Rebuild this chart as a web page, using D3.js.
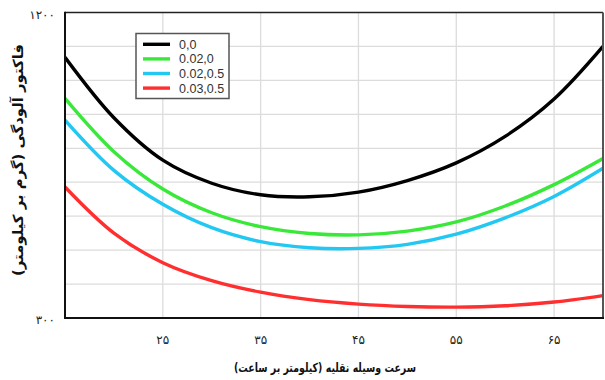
<!DOCTYPE html>
<html><head><meta charset="utf-8">
<script src="https://cdn.jsdelivr.net/npm/d3@7"></script>
<style>body{margin:0;background:#fff}svg{display:block}</style>
</head><body>
<script>
const speeds = [15, 20, 25, 30, 35, 40, 45, 50, 55, 60, 65, 70];
const seriesNames = ["0,0", "0.02,0", "0.02,0.5", "0.03,0.5"];
const black = [1068, 890, 765, 697, 663, 657, 671, 705, 757, 835, 945, 1100];
const green = [947, 790, 680, 610, 569, 549, 545, 556, 583, 630, 693, 770];
const cyan = [883, 735, 635, 566, 525, 507, 505, 517, 547, 595, 658, 741];
const red = [686, 550, 463, 410, 376, 354, 341, 334, 332, 336, 347, 366];
const colors = ["#000000", "#3ae83a", "#22c8f2", "#ff2f2f"];
const xTicks = [25, 35, 45, 55, 65];
const xTickLabels = ["۲۵", "۳۵", "۴۵", "۵۵", "۶۵"];
const yTicks = [300, 1200];
const yTickLabels = ["۳۰۰", "۱۲۰۰"];
const yGrid = [400, 500, 600, 700, 800, 900, 1000, 1100];
const xTitle = "سرعت وسیله نقلیه (کیلومتر بر ساعت)";
const yTitle = "فاکتور آلودگی (گرم بر کیلومتر)";

const W = 605, H = 380;
const L = 65, R = 603, T = 12.5, B = 318;
const svg = d3.select("body").append("svg").attr("width", W).attr("height", H);
const x = d3.scaleLinear().domain([15, 70]).range([L, R]);
const y = d3.scaleLinear().domain([300, 1200]).range([B, T]);

// grid
svg.append("g").selectAll("line").data(yGrid).join("line")
  .attr("x1", L).attr("x2", R).attr("y1", d => y(d)).attr("y2", d => y(d))
  .attr("stroke", "#dcdcdc").attr("stroke-width", 1.3);
svg.append("g").selectAll("line").data(xTicks).join("line")
  .attr("y1", T).attr("y2", B).attr("x1", d => x(d)).attr("x2", d => x(d))
  .attr("stroke", "#dcdcdc").attr("stroke-width", 1.3);

// clip
svg.append("clipPath").attr("id", "clip").append("rect")
  .attr("x", L).attr("y", T).attr("width", R - L).attr("height", B - T);

const all = [black, green, cyan, red];
const line = d3.line().x((d, i) => x(speeds[i])).y(d => y(d)).curve(d3.curveCatmullRom.alpha(0.5));
svg.append("g").attr("clip-path", "url(#clip)").selectAll("path").data(all).join("path")
  .attr("d", d => line(d)).attr("fill", "none")
  .attr("stroke", (d, i) => colors[i]).attr("stroke-width", 3.4);

// frame
svg.append("line").attr("x1", L).attr("x2", R).attr("y1", T).attr("y2", T).attr("stroke", "#222").attr("stroke-width", 1.5);
svg.append("line").attr("x1", R).attr("x2", R).attr("y1", T).attr("y2", B).attr("stroke", "#555").attr("stroke-width", 2);
svg.append("line").attr("x1", L).attr("x2", L).attr("y1", T - 0.75).attr("y2", B + 1).attr("stroke", "#111").attr("stroke-width", 2);
svg.append("line").attr("x1", L - 1).attr("x2", R + 1).attr("y1", B).attr("y2", B).attr("stroke", "#111").attr("stroke-width", 2.2);

// x tick labels
svg.append("g").selectAll("text").data(xTicks).join("text")
  .attr("x", d => x(d)).attr("y", 344).attr("text-anchor", "middle")
  .attr("font-family", "DejaVu Sans").attr("font-size", 12).attr("fill", "#222")
  .text((d, i) => xTickLabels[i]);
// y tick labels
svg.append("g").selectAll("text").data(yTicks).join("text")
  .attr("x", 55).attr("y", d => y(d) + 6).attr("text-anchor", "end")
  .attr("font-family", "DejaVu Sans").attr("font-size", 12).attr("fill", "#222")
  .text((d, i) => yTickLabels[i]);

// titles
svg.append("text").attr("x", 325).attr("y", 372).attr("text-anchor", "middle")
  .attr("direction", "rtl")
  .attr("font-family", "DejaVu Sans").attr("font-size", 12.5).attr("font-weight", "bold").attr("fill", "#111")
  .attr("textLength", 182).attr("lengthAdjust", "spacingAndGlyphs")
  .text(xTitle);
svg.append("text").attr("transform", "translate(23,160) rotate(-90)").attr("text-anchor", "middle")
  .attr("direction", "rtl")
  .attr("font-family", "DejaVu Sans").attr("font-size", 14).attr("font-weight", "bold").attr("fill", "#111")
  .attr("textLength", 232).attr("lengthAdjust", "spacingAndGlyphs")
  .text(yTitle);

// legend
const lg = svg.append("g");
lg.append("rect").attr("x", 136).attr("y", 33.5).attr("width", 93).attr("height", 65)
  .attr("fill", "#fff").attr("stroke", "#555").attr("stroke-width", 1.5);
const rows = lg.selectAll("g.row").data(seriesNames).join("g")
  .attr("transform", (d, i) => `translate(0,${44.3 + i * 14.6})`);
rows.append("line").attr("x1", 143).attr("x2", 170).attr("y1", 0).attr("y2", 0)
  .attr("stroke", (d, i) => colors[i]).attr("stroke-width", 3.4);
rows.append("text").attr("x", 179).attr("y", 4.5)
  .attr("font-family", "Liberation Sans Narrow, Liberation Sans").attr("font-size", 12.5).attr("fill", "#333")
  .text(d => d);
</script>
</body></html>
